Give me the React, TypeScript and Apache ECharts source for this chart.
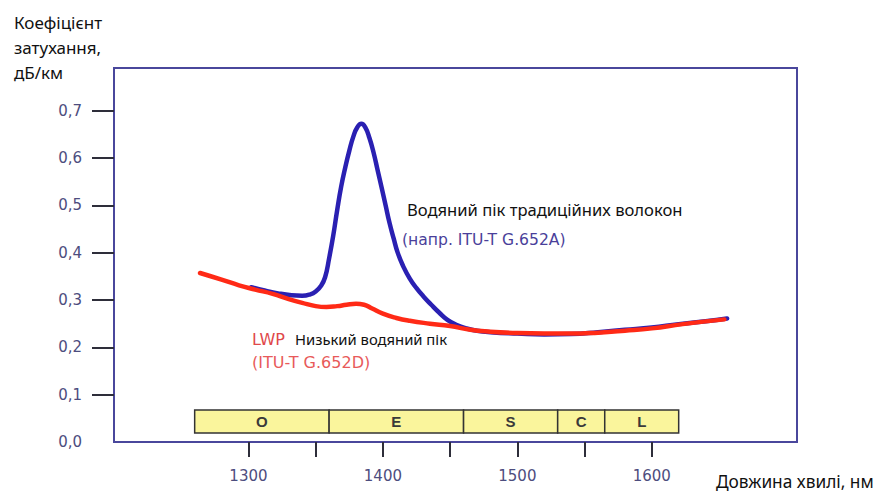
import React, { useEffect, useRef } from "react";
import * as echarts from "echarts";

// Conventional fibre (ITU-T G.652A) attenuation, dB/km
const wavelengthA = [1302, 1312, 1322, 1332, 1340, 1346, 1350, 1354, 1357, 1360, 1363, 1366, 1369, 1372, 1375, 1378, 1381, 1384, 1387, 1390, 1393, 1396, 1399, 1402, 1405, 1408, 1411, 1415, 1420, 1425, 1430, 1436, 1442, 1448, 1455, 1462, 1470, 1480, 1500, 1520, 1540, 1560, 1580, 1600, 1620, 1640, 1656];
const lossA = [0.327, 0.320, 0.314, 0.310, 0.309, 0.312, 0.318, 0.330, 0.348, 0.388, 0.435, 0.49, 0.54, 0.58, 0.615, 0.645, 0.665, 0.672, 0.664, 0.642, 0.612, 0.575, 0.538, 0.50, 0.462, 0.43, 0.40, 0.372, 0.345, 0.325, 0.308, 0.29, 0.273, 0.258, 0.247, 0.240, 0.235, 0.232, 0.229, 0.227, 0.228, 0.232, 0.237, 0.242, 0.249, 0.255, 0.261];

// Low water peak fibre (ITU-T G.652D)
const wavelengthD = [1264, 1280, 1293, 1305, 1318, 1330, 1340, 1350, 1358, 1366, 1373, 1380, 1386, 1392, 1400, 1410, 1420, 1435, 1450, 1465, 1480, 1500, 1520, 1540, 1560, 1580, 1600, 1623, 1654];
const lossD = [0.357, 0.343, 0.331, 0.322, 0.313, 0.302, 0.294, 0.287, 0.285, 0.287, 0.290, 0.292, 0.290, 0.282, 0.271, 0.262, 0.256, 0.250, 0.245, 0.237, 0.233, 0.230, 0.229, 0.229, 0.231, 0.235, 0.240, 0.249, 0.259];

// Spectral bands
const bandNames = ["O", "E", "S", "C", "L"];
const bandEdges = [1260, 1360, 1460, 1530, 1565, 1620];
const bandLow = 0.019;
const bandHigh = 0.0675;

// Axis ticks and labels
const yTickValues = [0.1, 0.2, 0.3, 0.4, 0.5, 0.6, 0.7];
const yLabelValues = [0, 0.1, 0.2, 0.3, 0.4, 0.5, 0.6, 0.7];
const xTickValues = [1300, 1350, 1400, 1450, 1500, 1550, 1600];
const xLabelValues = [1300, 1400, 1500, 1600];

const FRAME = "#4a479c";
const TICK = "#2e2e3a";
const LABEL = "#4d4d7e";

export default function App() {
  const ref = useRef<HTMLDivElement>(null);
  useEffect(() => {
    if (!ref.current) return;
    const chart = echarts.init(ref.current, null, { renderer: "svg" });
    const dataA = wavelengthA.map((w, i) => [w, lossA[i]]);
    const dataD = wavelengthD.map((w, i) => [w, lossD[i]]);
    const bands = bandNames.map((n, i) => [
      { name: n, xAxis: bandEdges[i], yAxis: bandLow },
      { xAxis: bandEdges[i + 1], yAxis: bandHigh },
    ]);
    const txt = (
      text: string,
      x: number,
      y: number,
      size: number,
      fill: string,
      family: string,
      weight: string = "normal"
    ) => ({
      type: "text",
      x,
      y,
      silent: true,
      style: {
        text,
        fill,
        fontSize: size,
        fontFamily: family,
        fontWeight: weight,
        textAlign: "left",
        verticalAlign: "middle",
        textVerticalAlign: "middle",
      },
    });
    const CAL = "Noto Sans";
    const VER = "DejaVu Sans";
    chart.setOption({
      animation: false,
      backgroundColor: "#ffffff",
      grid: {
        left: 114,
        top: 68,
        right: 81,
        bottom: 50,
        show: true,
        borderColor: FRAME,
        borderWidth: 2,
        backgroundColor: "transparent",
      },
      xAxis: {
        type: "value",
        min: 1200,
        max: 1708,
        splitLine: { show: false },
        axisLine: { show: true, lineStyle: { color: FRAME, width: 2 } },
        axisTick: {
          show: true,
          customValues: xTickValues,
          length: 15,
          inside: false,
          lineStyle: { color: TICK, width: 2 },
        },
        axisLabel: {
          show: true,
          customValues: xLabelValues,
          margin: 26,
          color: LABEL,
          fontFamily: VER,
          fontSize: 15,
          formatter: (v: number) => String(v),
        },
      },
      yAxis: {
        type: "value",
        min: 0,
        max: 0.79,
        splitLine: { show: false },
        axisLine: { show: true, lineStyle: { color: FRAME, width: 2 } },
        axisTick: {
          show: true,
          customValues: yTickValues,
          length: 22,
          inside: false,
          lineStyle: { color: TICK, width: 2 },
        },
        axisLabel: {
          show: true,
          customValues: yLabelValues,
          margin: 32,
          color: LABEL,
          fontFamily: VER,
          fontSize: 15,
          formatter: (v: number) => v.toFixed(1).replace(".", ","),
        },
      },
      series: [
        {
          type: "line",
          name: "G.652A",
          data: dataA,
          smooth: 0.5,
          symbol: "none",
          lineStyle: { color: "#2a20b2", width: 4.5, cap: "round" },
          z: 2,
          markArea: {
            silent: true,
            itemStyle: { color: "#faf59c", borderColor: "#333333", borderWidth: 1.5 },
            label: {
              show: true,
              position: "inside",
              color: "#3a3a3a",
              fontFamily: "Liberation Sans",
              fontWeight: "bold",
              fontSize: 15,
            },
            data: bands,
          },
        },
        {
          type: "line",
          name: "G.652D",
          data: dataD,
          smooth: 0.5,
          symbol: "none",
          lineStyle: { color: "#ff2a16", width: 4.5, cap: "round" },
          z: 3,
        },
      ],
      graphic: [
        txt("Коефіцієнт", 14, 22, 17, "#111111", CAL),
        txt("затухання,", 14, 47, 17, "#111111", CAL),
        txt("дБ/км", 14, 72, 17, "#111111", CAL),
        txt("Довжина хвилі, нм", 716, 481, 17.3, "#111111", CAL),
        txt("Водяний пік традиційних волокон", 407, 209, 16.6, "#111111", CAL),
        txt("(напр. ITU-T G.652A)", 402, 240, 15.6, "#4a3f9a", VER),
        txt("LWP", 252, 339, 16, "#e0484a", VER),
        txt("Низький водяний пік", 295, 339, 14.8, "#111111", CAL),
        txt("(ITU-T G.652D)", 252, 362, 16, "#e85a5a", VER),
      ],
    });
    return () => chart.dispose();
  }, []);
  return (
    <div
      ref={ref}
      style={{ position: "absolute", left: 0, top: 0, width: 878, height: 492 }}
    />
  );
}
